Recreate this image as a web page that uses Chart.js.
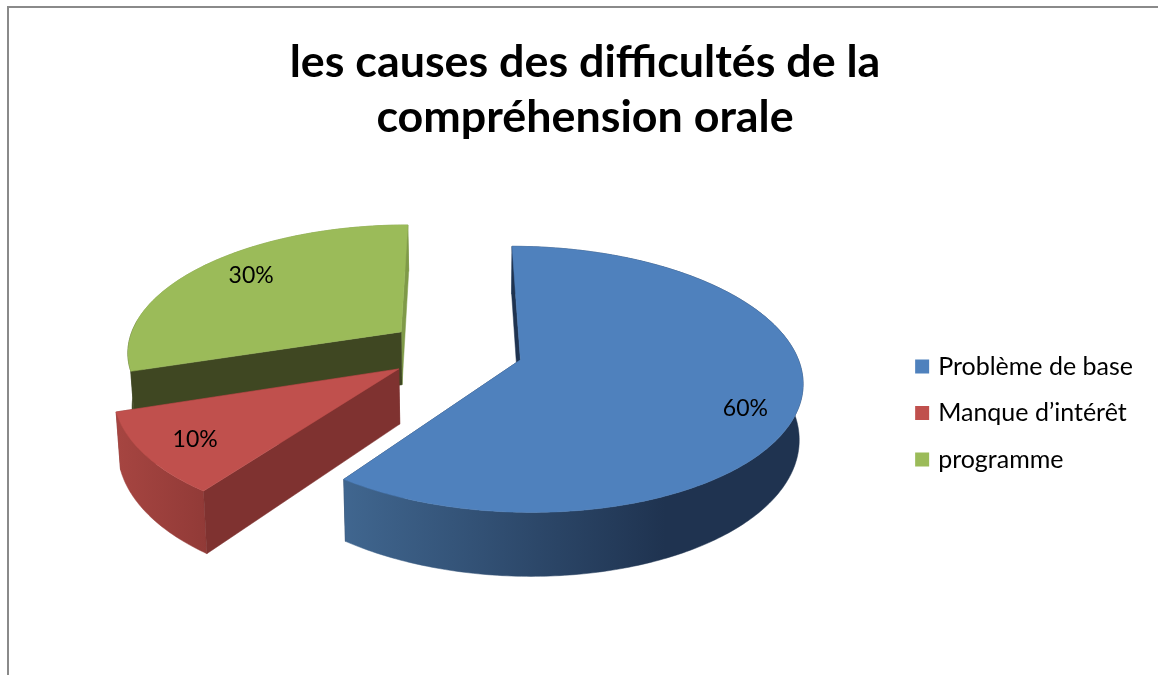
<!DOCTYPE html>
<html>
<head>
<meta charset="utf-8">
<style>html,body{margin:0;padding:0;background:#fff}#w{width:1158px;height:675px;position:relative}</style>
<script src="https://cdn.jsdelivr.net/npm/chart.js@4"></script>
</head>
<body>
<div id="w"><canvas id="c" width="1158" height="675"></canvas></div>
<script>
const titleLines = ['les causes des difficultés de la', 'compréhension orale'];
const categories = ['Problème de base', 'Manque d’intérêt', 'programme'];
const values = [60, 10, 30];
const topColors = ['#4F81BD', '#C0504D', '#9BBB59'];
const wallColors = ['#1F3350', '#7F3230', '#3F4722'];
const endWallColors = ['#1F3350', '#7F3230', '#7F9A48'];
const rimStart = ['#40668F', '#A64541', '#3F4722'];
const rimEnd = ['#1F3350', '#913A37', '#7F9A48'];
const rimSpan = [[345, 665], [117, 208], [136, 138]];
const labelReach = [0.8, 0.8, 0.8];
const labelNudge = [[3, 15], [-4, 4], [10, -2]];

const V = {cx: 455, cy: 350, R: 275, k: 0.463, p: 0.145, depth: 54, vx: 480, shrink: 0.012, explode: 68};

function project(X, Y, z) {
  const w = 1 - V.p * Y / V.R;
  let x = V.cx + X / w;
  let y = V.cy + V.k * Y / w;
  if (z) { y += V.depth / w; x = V.vx + (x - V.vx) * (1 - V.shrink); }
  return [x, y];
}
function poly(ctx, pts, fill) {
  ctx.beginPath();
  pts.forEach((p, i) => i ? ctx.lineTo(p[0], p[1]) : ctx.moveTo(p[0], p[1]));
  ctx.closePath();
  ctx.fillStyle = fill;
  ctx.fill();
  ctx.strokeStyle = fill;
  ctx.lineWidth = 0.5;
  ctx.stroke();
}

const pie3d = {
  id: 'pie3d',
  beforeDraw(chart) {
    const ctx = chart.ctx;
    ctx.save();
    ctx.strokeStyle = '#8A8A8A';
    ctx.lineWidth = 2;
    ctx.beginPath();
    ctx.moveTo(8, 675); ctx.lineTo(8, 7); ctx.lineTo(1158, 7);
    ctx.stroke();
    ctx.restore();
  },
  beforeDatasetsDraw(chart) {
    const ctx = chart.ctx;
    const arcs = chart.getDatasetMeta(0).data;
    ctx.save();
    [2, 1, 0].forEach(i => {
      const el = arcs[i];
      const a0 = el.startAngle, a1 = el.endAngle, mid = (a0 + a1) / 2;
      const ox = Math.cos(mid) * el.options.offset, oy = Math.sin(mid) * el.options.offset;
      const edge = [];
      const n = Math.ceil((a1 - a0) / 0.015);
      for (let s = 0; s <= n; s++) {
        const a = a0 + (a1 - a0) * s / n;
        edge.push([ox + V.R * Math.cos(a), oy + V.R * Math.sin(a)]);
      }
      const ap = project(ox, oy, 0), apB = project(ox, oy, 1);
      const up = edge.map(p => project(p[0], p[1], 0));
      const lo = edge.map(p => project(p[0], p[1], 1));
      poly(ctx, [ap, up[n], lo[n], apB], endWallColors[i]);
      const g = ctx.createLinearGradient(rimSpan[i][0], 0, rimSpan[i][1], 0);
      g.addColorStop(0, rimStart[i]);
      g.addColorStop(1, rimEnd[i]);
      poly(ctx, up.concat(lo.slice().reverse()), g);
      poly(ctx, [ap, up[0], lo[0], apB], wallColors[i]);
      poly(ctx, [ap].concat(up), topColors[i]);
    });
    ctx.fillStyle = '#000';
    ctx.font = '23px Lato';
    ctx.textAlign = 'center';
    ctx.textBaseline = 'middle';
    arcs.forEach((el, i) => {
      const mid = (el.startAngle + el.endAngle) / 2;
      const r = el.options.offset + V.R * labelReach[i];
      const p = project(r * Math.cos(mid), r * Math.sin(mid), 0);
      ctx.fillText(values[i] + '%', p[0] + labelNudge[i][0], p[1] + labelNudge[i][1]);
    });
    ctx.restore();
    return false;
  }
};

new Chart(document.getElementById('c'), {
  type: 'pie',
  data: {
    labels: categories,
    datasets: [{data: values, backgroundColor: topColors, borderWidth: 0, offset: V.explode}]
  },
  plugins: [pie3d],
  options: {
    responsive: false,
    animation: false,
    layout: {padding: {top: 35, right: 15, left: 27, bottom: 0}},
    plugins: {
      tooltip: {enabled: false},
      title: {
        display: true,
        text: titleLines,
        color: '#000',
        font: {family: 'Lato', size: 44.8, weight: 'bold', lineHeight: 1.23},
        padding: {top: 0, bottom: 6}
      },
      legend: {
        position: 'right',
        fullSize: false,
        labels: {
          color: '#000',
          font: {family: 'Lato', size: 25},
          usePointStyle: true,
          pointStyle: 'rect',
          boxWidth: 7,
          boxHeight: 14,
          padding: 21.5
        }
      }
    }
  }
});
</script>
</body>
</html>
